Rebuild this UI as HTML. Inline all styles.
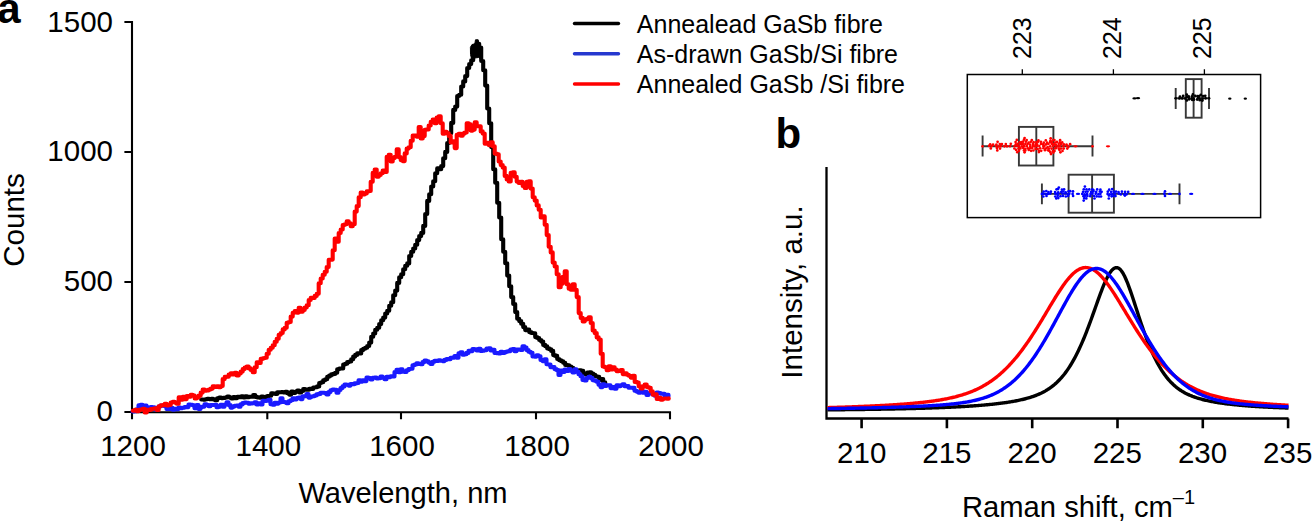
<!DOCTYPE html>
<html><head><meta charset="utf-8"><title>Figure</title>
<style>
html,body{margin:0;padding:0;background:#fff;width:1313px;height:521px;overflow:hidden;}
svg{display:block;}
text{font-family:"Liberation Sans",sans-serif;fill:#000;}
</style></head><body>
<svg width="1313" height="521" viewBox="0 0 1313 521">
<rect x="0" y="0" width="1313" height="521" fill="#fff"/>
<!-- panel labels -->
<text x="-2.8" y="23" font-size="42" font-weight="bold">a</text>
<text x="775.6" y="148" font-size="42" font-weight="bold">b</text>

<!-- ===== panel a axes ===== -->
<g stroke="#000" stroke-width="2.1" fill="none" stroke-linecap="butt">
<path d="M132,21 V412.2 H671"/>
<path d="M124.4,22 H132 M124.4,152 H132 M124.4,282 H132 M124.4,412 H132"/>
<path d="M132,412 V419.3 M267.3,412 V419.3 M401,412 V419.3 M536,412 V419.3 M670,412 V419.3"/>
</g>
<g font-size="29.5" text-anchor="end">
<text x="113" y="31.5">1500</text>
<text x="113" y="161.3">1000</text>
<text x="113" y="291.3">500</text>
<text x="113" y="421.3">0</text>
</g>
<g font-size="29.5" text-anchor="middle">
<text x="133" y="455.8">1200</text>
<text x="268.3" y="455.8">1400</text>
<text x="402" y="455.8">1600</text>
<text x="537" y="455.8">1800</text>
<text x="671" y="455.8">2000</text>
</g>
<text x="403" y="503" font-size="29.1" text-anchor="middle">Wavelength, nm</text>
<text transform="translate(24,220) rotate(-90)" font-size="29.5" text-anchor="middle">Counts</text>

<!-- panel a curves -->
<g fill="none" stroke-width="4.1" stroke-linejoin="round" stroke-linecap="round">
<path stroke="#000" d="M201.2,399.5 H203.2 V399.7 H205.2 V399.3 H207.2 V398.8 H209.2 V399.1 H211.2 V398.7 H213.2 V399.5 H215.2 V400.2 H217.2 V398.2 H219.2 V397.5 H221.2 V398.1 H223.2 V397.9 H225.2 V397.5 H227.2 V396.6 H229.2 V397.5 H231.2 V398.4 H233.2 V397.1 H235.2 V398.1 H237.2 V396.8 H239.2 V397.1 H241.2 V396.4 H243.2 V397.5 H245.2 V396.3 H247.2 V397.2 H249.2 V396.7 H251.2 V396.7 H253.2 V395.0 H255.2 V396.9 H257.2 V397.5 H259.2 V397.8 H261.2 V396.5 H263.2 V397.3 H265.2 V396.9 H267.2 V396.1 H269.2 V395.8 H271.2 V393.4 H273.2 V393.6 H275.2 V394.0 H277.2 V392.4 H279.2 V392.3 H281.2 V392.1 H283.2 V392.4 H285.2 V391.7 H287.2 V393.2 H289.2 V394.6 H291.2 V391.6 H293.2 V393.0 H295.2 V391.8 H297.2 V390.6 H299.2 V392.4 H301.2 V391.0 H303.2 V389.0 H305.2 V389.6 H307.2 V389.7 H309.2 V388.8 H311.2 V388.9 H313.2 V387.5 H315.2 V387.3 H317.2 V386.4 H319.2 V383.0 H321.2 V382.2 H323.2 V380.3 H325.2 V379.3 H327.2 V376.7 H329.2 V375.6 H331.2 V374.4 H333.2 V373.9 H335.2 V372.7 H337.2 V369.3 H339.2 V368.5 H341.2 V368.5 H343.2 V364.5 H345.2 V363.8 H347.2 V362.1 H349.2 V361.5 H351.2 V359.2 H353.2 V356.6 H355.2 V354.9 H357.2 V353.4 H359.2 V353.4 H361.2 V350.1 H363.2 V348.7 H365.2 V347.8 H367.2 V346.0 H369.2 V342.6 H371.2 V336.8 H373.2 V333.5 H375.2 V329.7 H377.2 V327.8 H379.2 V324.1 H381.2 V320.2 H383.2 V317.6 H385.2 V313.5 H387.2 V310.8 H389.2 V305.8 H391.2 V302.3 H393.2 V295.3 H395.2 V290.6 H397.2 V282.9 H399.2 V277.3 H401.2 V274.2 H403.2 V269.3 H405.2 V265.8 H407.2 V263.4 H409.2 V256.0 H411.2 V251.7 H413.2 V248.5 H415.2 V244.8 H417.2 V240.1 H419.2 V236.1 H421.2 V232.9 H423.2 V225.9 H425.2 V214.0 H427.2 V200.9 H429.2 V194.3 H431.2 V186.5 H433.2 V181.2 H435.2 V173.2 H437.2 V168.4 H439.2 V169.3 H441.2 V166.1 H443.2 V158.3 H445.2 V151.9 H447.2 V143.0 H449.2 V133.2 H451.2 V122.9 H453.2 V109.9 H455.2 V106.6 H457.2 V96.0 H459.2 V94.8 H461.2 V86.5 H463.2 V81.4 H465.2 V76.1 H467.2 V68.0 H469.2 V64.1 H471.2 V60.3 H473.2 V47.8 H475.2 V45.3 H477.2 V43.7 H479.2 V47.6 H481.2 V61.0 H483.2 V70.2 H485.2 V85.6 H487.2 V108.5 H489.2 V123.2 H491.2 V147.1 H493.2 V169.3 H495.2 V182.8 H497.2 V202.8 H499.2 V217.5 H501.2 V239.3 H503.2 V251.7 H505.2 V263.3 H507.2 V275.6 H509.2 V286.2 H511.2 V297.1 H513.2 V304.0 H515.2 V312.1 H517.2 V318.8 H519.2 V321.1 H521.2 V323.8 H523.2 V327.1 H525.2 V330.1 H527.2 V329.6 H529.2 V332.1 H531.2 V333.0 H533.2 V333.3 H535.2 V337.1 H537.2 V338.0 H539.2 V340.0 H541.2 V341.6 H543.2 V344.9 H545.2 V346.3 H547.2 V348.4 H549.2 V349.3 H551.2 V350.9 H553.2 V355.1 H555.2 V355.9 H557.2 V359.0 H559.2 V360.3 H561.2 V361.3 H563.2 V362.7 H565.2 V364.9 H567.2 V365.3 H569.2 V366.5 H571.2 V367.8 H573.2 V369.6 H575.2 V370.0 H577.2 V370.5 H579.2 V370.4 H581.2 V370.8 H583.2 V374.0 H585.2 V374.5 H587.2 V372.6 H589.2 V372.2 H591.2 V373.5 H593.2 V374.7 H595.2 V376.3 H597.2 V376.8 H599.2 V379.9 H601.2 V379.1 H603.2 V382.3 H605.2 V383.7"/>
<path fill="#000" stroke="#000" stroke-width="1" stroke-linejoin="round" d="M470.6,47 L472,44.5 L474.8,44 L475.5,39.8 L478.2,39.8 L479,44.5 L480.6,46 L481,52 L480.4,58.5 L478.5,57.5 L474.5,58 L471.6,59 L470.6,55 Z"/>
<path stroke="#1a1aff" d="M132.5,411.5 H134.5 V411.3 H136.5 V409.3 H138.5 V405.3 H140.5 V404.7 H142.5 V407.7 H144.5 V405.5 H146.5 V407.3 H148.5 V409.2 H150.5 V407.1 H152.5 V407.4 H154.5 V409.4 H156.5 V408.0 H158.5 V406.5 H160.5 V405.6 H162.5 V405.8 H164.5 V406.2 H166.5 V409.0 H168.5 V408.9 H170.5 V407.7 H172.5 V409.8 H174.5 V408.8 H176.5 V409.1 H178.5 V407.6 H180.5 V408.1 H182.5 V407.8 H184.5 V407.1 H186.5 V407.1 H188.5 V404.6 H190.5 V404.7 H192.5 V405.2 H194.5 V408.2 H196.5 V405.1 H198.5 V408.9 H200.5 V407.1 H202.5 V406.6 H204.5 V404.3 H206.5 V405.0 H208.5 V406.2 H210.5 V405.0 H212.5 V405.0 H214.5 V404.7 H216.5 V407.3 H218.5 V406.6 H220.5 V404.8 H222.5 V406.7 H224.5 V404.5 H226.5 V402.4 H228.5 V405.1 H230.5 V407.6 H232.5 V406.6 H234.5 V405.7 H236.5 V405.5 H238.5 V406.8 H240.5 V404.4 H242.5 V403.1 H244.5 V402.6 H246.5 V402.7 H248.5 V403.7 H250.5 V403.4 H252.5 V403.3 H254.5 V402.2 H256.5 V404.5 H258.5 V403.4 H260.5 V404.5 H262.5 V400.7 H264.5 V401.0 H266.5 V400.6 H268.5 V399.8 H270.5 V404.2 H272.5 V404.7 H274.5 V402.7 H276.5 V403.6 H278.5 V402.5 H280.5 V398.3 H282.5 V401.9 H284.5 V402.3 H286.5 V403.2 H288.5 V401.3 H290.5 V400.3 H292.5 V398.4 H294.5 V399.4 H296.5 V398.1 H298.5 V397.5 H300.5 V399.1 H302.5 V396.3 H304.5 V396.1 H306.5 V394.0 H308.5 V397.6 H310.5 V396.6 H312.5 V396.2 H314.5 V395.5 H316.5 V394.4 H318.5 V393.9 H320.5 V392.7 H322.5 V392.8 H324.5 V393.1 H326.5 V394.4 H328.5 V392.1 H330.5 V390.2 H332.5 V389.5 H334.5 V389.8 H336.5 V392.8 H338.5 V390.0 H340.5 V388.1 H342.5 V386.4 H344.5 V384.5 H346.5 V384.8 H348.5 V385.6 H350.5 V384.1 H352.5 V384.2 H354.5 V383.4 H356.5 V383.0 H358.5 V380.4 H360.5 V381.6 H362.5 V380.4 H364.5 V381.1 H366.5 V377.5 H368.5 V378.0 H370.5 V379.5 H372.5 V377.7 H374.5 V377.6 H376.5 V378.5 H378.5 V378.3 H380.5 V376.5 H382.5 V377.7 H384.5 V379.2 H386.5 V376.7 H388.5 V377.1 H390.5 V376.3 H392.5 V376.5 H394.5 V372.1 H396.5 V369.7 H398.5 V372.2 H400.5 V369.3 H402.5 V371.6 H404.5 V372.0 H406.5 V370.3 H408.5 V369.1 H410.5 V368.7 H412.5 V365.3 H414.5 V364.5 H416.5 V363.3 H418.5 V364.0 H420.5 V364.2 H422.5 V362.1 H424.5 V360.5 H426.5 V361.4 H428.5 V362.6 H430.5 V364.0 H432.5 V361.8 H434.5 V360.8 H436.5 V360.9 H438.5 V360.3 H440.5 V360.7 H442.5 V361.1 H444.5 V359.9 H446.5 V359.1 H448.5 V359.3 H450.5 V357.7 H452.5 V357.6 H454.5 V356.1 H456.5 V357.8 H458.5 V353.3 H460.5 V352.3 H462.5 V354.7 H464.5 V354.2 H466.5 V352.9 H468.5 V350.7 H470.5 V351.1 H472.5 V349.1 H474.5 V349.4 H476.5 V350.4 H478.5 V348.7 H480.5 V351.0 H482.5 V350.6 H484.5 V350.3 H486.5 V348.6 H488.5 V348.2 H490.5 V350.5 H492.5 V349.7 H494.5 V352.9 H496.5 V353.1 H498.5 V353.4 H500.5 V351.7 H502.5 V352.9 H504.5 V352.1 H506.5 V351.5 H508.5 V351.1 H510.5 V349.6 H512.5 V349.0 H514.5 V351.3 H516.5 V349.6 H518.5 V349.6 H520.5 V350.0 H522.5 V346.2 H524.5 V347.5 H526.5 V350.1 H528.5 V351.7 H530.5 V352.7 H532.5 V356.4 H534.5 V356.6 H536.5 V355.3 H538.5 V356.2 H540.5 V359.9 H542.5 V361.1 H544.5 V359.4 H546.5 V364.3 H548.5 V364.6 H550.5 V367.3 H552.5 V367.0 H554.5 V369.1 H556.5 V370.1 H558.5 V374.9 H560.5 V370.6 H562.5 V372.0 H564.5 V369.6 H566.5 V370.9 H568.5 V369.0 H570.5 V370.8 H572.5 V372.5 H574.5 V369.4 H576.5 V371.8 H578.5 V374.3 H580.5 V376.2 H582.5 V380.0 H584.5 V380.5 H586.5 V378.0 H588.5 V376.9 H590.5 V378.0 H592.5 V380.1 H594.5 V380.7 H596.5 V381.8 H598.5 V384.7 H600.5 V387.1 H602.5 V384.2 H604.5 V386.0 H606.5 V385.2 H608.5 V385.2 H610.5 V388.1 H612.5 V387.1 H614.5 V388.7 H616.5 V385.2 H618.5 V386.2 H620.5 V385.2 H622.5 V384.2 H624.5 V386.2 H626.5 V386.0 H628.5 V387.7 H630.5 V387.7 H632.5 V387.9 H634.5 V390.7 H636.5 V391.6 H638.5 V392.7 H640.5 V390.7 H642.5 V392.8 H644.5 V391.7 H646.5 V395.0 H648.5 V393.3 H650.5 V392.5 H652.5 V394.5 H654.5 V395.8 H656.5 V392.5 H658.5 V393.0 H660.5 V393.8 H662.5 V393.8 H664.5 V396.0 H666.5 V394.9 H668.5 V396.2"/>
<path stroke="#ff0000" d="M132.7,410.8 H134.7 V409.7 H136.7 V411.2 H138.7 V409.9 H140.7 V409.5 H142.7 V408.8 H144.7 V412.4 H146.7 V409.8 H148.7 V409.9 H150.7 V409.1 H152.7 V408.8 H154.7 V408.3 H156.7 V409.9 H158.7 V406.3 H160.7 V405.3 H162.7 V405.1 H164.7 V403.9 H166.7 V405.4 H168.7 V404.9 H170.7 V402.5 H172.7 V401.7 H174.7 V402.6 H176.7 V403.8 H178.7 V397.2 H180.7 V399.8 H182.7 V396.8 H184.7 V399.1 H186.7 V396.1 H188.7 V396.8 H190.7 V394.9 H192.7 V395.5 H194.7 V398.4 H196.7 V397.5 H198.7 V395.6 H200.7 V392.6 H202.7 V389.6 H204.7 V390.8 H206.7 V390.4 H208.7 V389.5 H210.7 V388.6 H212.7 V386.2 H214.7 V386.9 H216.7 V386.2 H218.7 V387.3 H220.7 V386.0 H222.7 V379.1 H224.7 V376.9 H226.7 V376.7 H228.7 V374.6 H230.7 V373.4 H232.7 V374.4 H234.7 V372.9 H236.7 V375.4 H238.7 V373.5 H240.7 V371.6 H242.7 V369.1 H244.7 V367.6 H246.7 V366.5 H248.7 V368.4 H250.7 V369.9 H252.7 V372.2 H254.7 V367.2 H256.7 V362.4 H258.7 V363.0 H260.7 V358.9 H262.7 V358.3 H264.7 V357.8 H266.7 V353.7 H268.7 V349.7 H270.7 V347.8 H272.7 V345.3 H274.7 V341.7 H276.7 V338.8 H278.7 V334.7 H280.7 V333.0 H282.7 V329.4 H284.7 V327.8 H286.7 V322.8 H288.7 V322.0 H290.7 V316.6 H292.7 V312.7 H294.7 V311.0 H296.7 V312.6 H298.7 V307.7 H300.7 V311.7 H302.7 V310.0 H304.7 V307.5 H306.7 V305.2 H308.7 V300.0 H310.7 V297.8 H312.7 V297.9 H314.7 V295.9 H316.7 V293.8 H318.7 V283.3 H320.7 V278.5 H322.7 V274.7 H324.7 V271.8 H326.7 V267.0 H328.7 V259.7 H330.7 V259.6 H332.7 V250.3 H334.7 V238.5 H336.7 V241.8 H338.7 V233.0 H340.7 V229.5 H342.7 V225.0 H344.7 V224.2 H346.7 V221.2 H348.7 V223.3 H350.7 V226.3 H352.7 V224.2 H354.7 V211.6 H356.7 V206.1 H358.7 V197.3 H360.7 V192.6 H362.7 V194.5 H364.7 V193.4 H366.7 V191.4 H368.7 V191.0 H370.7 V181.7 H372.7 V172.9 H374.7 V169.6 H376.7 V176.7 H378.7 V174.9 H380.7 V173.3 H382.7 V170.6 H384.7 V172.0 H386.7 V156.7 H388.7 V154.7 H390.7 V161.5 H392.7 V158.1 H394.7 V156.8 H396.7 V149.4 H398.7 V157.1 H400.7 V160.1 H402.7 V161.1 H404.7 V153.4 H406.7 V148.6 H408.7 V147.2 H410.7 V140.7 H412.7 V135.6 H414.7 V135.5 H416.7 V136.7 H418.7 V127.0 H420.7 V138.4 H422.7 V136.1 H424.7 V129.7 H426.7 V129.4 H428.7 V125.5 H430.7 V121.9 H432.7 V119.5 H434.7 V123.2 H436.7 V117.5 H438.7 V116.2 H440.7 V123.2 H442.7 V133.7 H444.7 V131.8 H446.7 V133.2 H448.7 V135.9 H450.7 V142.5 H452.7 V141.4 H454.7 V148.1 H456.7 V134.9 H458.7 V133.7 H460.7 V135.7 H462.7 V133.6 H464.7 V132.5 H466.7 V123.3 H468.7 V124.2 H470.7 V130.6 H472.7 V129.6 H474.7 V122.4 H476.7 V126.2 H478.7 V126.2 H480.7 V131.4 H482.7 V133.6 H484.7 V143.8 H486.7 V142.9 H488.7 V145.1 H490.7 V142.2 H492.7 V146.3 H494.7 V153.6 H496.7 V154.3 H498.7 V161.5 H500.7 V165.1 H502.7 V167.6 H504.7 V175.9 H506.7 V179.5 H508.7 V181.4 H510.7 V172.8 H512.7 V172.4 H514.7 V176.7 H516.7 V181.6 H518.7 V182.9 H520.7 V181.7 H522.7 V186.0 H524.7 V187.9 H526.7 V181.8 H528.7 V181.4 H530.7 V188.6 H532.7 V197.2 H534.7 V200.6 H536.7 V205.4 H538.7 V209.8 H540.7 V217.5 H542.7 V216.4 H544.7 V224.7 H546.7 V235.1 H548.7 V246.8 H550.7 V252.4 H552.7 V262.6 H554.7 V266.5 H556.7 V274.3 H558.7 V287.2 H560.7 V283.8 H562.7 V276.7 H564.7 V271.2 H566.7 V284.2 H568.7 V288.8 H570.7 V289.8 H572.7 V284.4 H574.7 V289.8 H576.7 V297.1 H578.7 V313.1 H580.7 V317.9 H582.7 V321.5 H584.7 V319.6 H586.7 V318.9 H588.7 V317.3 H590.7 V323.0 H592.7 V330.5 H594.7 V333.1 H596.7 V337.4 H598.7 V339.5 H600.7 V353.7 H602.7 V366.5 H604.7 V367.3 H606.7 V370.2 H608.7 V366.4 H610.7 V369.5 H612.7 V367.4 H614.7 V369.6 H616.7 V371.3 H618.7 V370.9 H620.7 V370.0 H622.7 V374.1 H624.7 V373.2 H626.7 V374.8 H628.7 V375.8 H630.7 V377.6 H632.7 V375.7 H634.7 V381.9 H636.7 V382.5 H638.7 V386.2 H640.7 V388.4 H642.7 V386.3 H644.7 V384.5 H646.7 V387.0 H648.7 V387.7 H650.7 V391.2 H652.7 V394.8 H654.7 V394.4 H656.7 V398.9 H658.7 V397.9 H660.7 V399.7 H662.7 V398.8 H664.7 V398.5 H666.7 V398.8 H668.7 V398.2"/>
</g>

<!-- legend -->
<g stroke-width="3.4" stroke-linecap="round">
<line x1="574.5" y1="23.5" x2="618.5" y2="23.5" stroke="#000"/>
<line x1="574.5" y1="53.8" x2="618.5" y2="53.8" stroke="#2638cf"/>
<line x1="574.5" y1="84" x2="618.5" y2="84" stroke="#ff0000"/>
</g>
<g font-size="25">
<text x="636.8" y="32.8">Annealead GaSb fibre</text>
<text x="636.8" y="63.1">As-drawn GaSb/Si fibre</text>
<text x="636.8" y="93.3">Annealed GaSb /Si fibre</text>
</g>

<!-- ===== panel b axes ===== -->
<g stroke="#000" stroke-width="2.3" fill="none">
<path d="M826.5,167 V418.5 H1288.5"/>
<path stroke-width="2.6" d="M861.6,418.5 V428.2 M946.9,418.5 V428.2 M1032.2,418.5 V428.2 M1117.5,418.5 V428.2 M1202.8,418.5 V428.2 M1288.1,418.5 V428.2"/>
</g>
<g font-size="29.5" text-anchor="middle">
<text x="861.7" y="462.5">210</text>
<text x="946.9" y="462.5">215</text>
<text x="1032.1" y="462.5">220</text>
<text x="1117.3" y="462.5">225</text>
<text x="1202.5" y="462.5">230</text>
<text x="1287.7" y="462.5">235</text>
</g>
<text x="962" y="516.5" font-size="29.2">Raman shift, cm<tspan font-size="20" dy="-12.7">–1</tspan></text>
<text transform="translate(801.5,292) rotate(-90)" font-size="29.5" text-anchor="middle">Intensity, a.u.</text>

<g fill="none" stroke-width="3.4" stroke-linejoin="round">
<path stroke="#000" d="M827.5,409.85 L828.5,409.84 L829.5,409.83 L830.5,409.82 L831.5,409.81 L832.5,409.80 L833.5,409.79 L834.5,409.78 L835.5,409.77 L836.5,409.76 L837.5,409.75 L838.5,409.74 L839.5,409.73 L840.5,409.72 L841.5,409.71 L842.5,409.70 L843.5,409.69 L844.5,409.68 L845.5,409.67 L846.5,409.66 L847.5,409.64 L848.5,409.63 L849.5,409.62 L850.5,409.61 L851.5,409.60 L852.5,409.59 L853.5,409.57 L854.5,409.56 L855.5,409.55 L856.5,409.54 L857.5,409.52 L858.5,409.51 L859.5,409.50 L860.5,409.48 L861.5,409.47 L862.5,409.46 L863.5,409.44 L864.5,409.43 L865.5,409.42 L866.5,409.40 L867.5,409.39 L868.5,409.37 L869.5,409.36 L870.5,409.34 L871.5,409.33 L872.5,409.31 L873.5,409.30 L874.5,409.28 L875.5,409.27 L876.5,409.25 L877.5,409.23 L878.5,409.22 L879.5,409.20 L880.5,409.18 L881.5,409.17 L882.5,409.15 L883.5,409.13 L884.5,409.12 L885.5,409.10 L886.5,409.08 L887.5,409.06 L888.5,409.04 L889.5,409.02 L890.5,409.00 L891.5,408.99 L892.5,408.97 L893.5,408.95 L894.5,408.93 L895.5,408.91 L896.5,408.89 L897.5,408.86 L898.5,408.84 L899.5,408.82 L900.5,408.80 L901.5,408.78 L902.5,408.76 L903.5,408.73 L904.5,408.71 L905.5,408.69 L906.5,408.66 L907.5,408.64 L908.5,408.62 L909.5,408.59 L910.5,408.57 L911.5,408.54 L912.5,408.52 L913.5,408.49 L914.5,408.46 L915.5,408.44 L916.5,408.41 L917.5,408.38 L918.5,408.35 L919.5,408.33 L920.5,408.30 L921.5,408.27 L922.5,408.24 L923.5,408.21 L924.5,408.18 L925.5,408.15 L926.5,408.12 L927.5,408.08 L928.5,408.05 L929.5,408.02 L930.5,407.99 L931.5,407.95 L932.5,407.92 L933.5,407.88 L934.5,407.85 L935.5,407.81 L936.5,407.77 L937.5,407.74 L938.5,407.70 L939.5,407.66 L940.5,407.62 L941.5,407.58 L942.5,407.54 L943.5,407.50 L944.5,407.46 L945.5,407.42 L946.5,407.37 L947.5,407.33 L948.5,407.28 L949.5,407.24 L950.5,407.19 L951.5,407.15 L952.5,407.10 L953.5,407.05 L954.5,407.00 L955.5,406.95 L956.5,406.90 L957.5,406.85 L958.5,406.79 L959.5,406.74 L960.5,406.68 L961.5,406.63 L962.5,406.57 L963.5,406.51 L964.5,406.45 L965.5,406.39 L966.5,406.33 L967.5,406.27 L968.5,406.21 L969.5,406.14 L970.5,406.07 L971.5,406.01 L972.5,405.94 L973.5,405.87 L974.5,405.80 L975.5,405.72 L976.5,405.65 L977.5,405.57 L978.5,405.49 L979.5,405.42 L980.5,405.33 L981.5,405.25 L982.5,405.17 L983.5,405.08 L984.5,404.99 L985.5,404.90 L986.5,404.81 L987.5,404.72 L988.5,404.62 L989.5,404.53 L990.5,404.43 L991.5,404.32 L992.5,404.22 L993.5,404.11 L994.5,404.00 L995.5,403.89 L996.5,403.78 L997.5,403.66 L998.5,403.54 L999.5,403.42 L1000.5,403.29 L1001.5,403.16 L1002.5,403.03 L1003.5,402.90 L1004.5,402.76 L1005.5,402.62 L1006.5,402.47 L1007.5,402.32 L1008.5,402.17 L1009.5,402.01 L1010.5,401.85 L1011.5,401.68 L1012.5,401.51 L1013.5,401.33 L1014.5,401.15 L1015.5,400.96 L1016.5,400.77 L1017.5,400.57 L1018.5,400.37 L1019.5,400.15 L1020.5,399.94 L1021.5,399.71 L1022.5,399.48 L1023.5,399.24 L1024.5,398.99 L1025.5,398.73 L1026.5,398.47 L1027.5,398.19 L1028.5,397.90 L1029.5,397.61 L1030.5,397.30 L1031.5,396.98 L1032.5,396.65 L1033.5,396.30 L1034.5,395.94 L1035.5,395.57 L1036.5,395.18 L1037.5,394.78 L1038.5,394.36 L1039.5,393.92 L1040.5,393.46 L1041.5,392.99 L1042.5,392.49 L1043.5,391.97 L1044.5,391.43 L1045.5,390.87 L1046.5,390.28 L1047.5,389.66 L1048.5,389.02 L1049.5,388.35 L1050.5,387.65 L1051.5,386.92 L1052.5,386.15 L1053.5,385.35 L1054.5,384.52 L1055.5,383.65 L1056.5,382.75 L1057.5,381.80 L1058.5,380.81 L1059.5,379.78 L1060.5,378.71 L1061.5,377.59 L1062.5,376.43 L1063.5,375.22 L1064.5,373.96 L1065.5,372.64 L1066.5,371.28 L1067.5,369.86 L1068.5,368.39 L1069.5,366.86 L1070.5,365.28 L1071.5,363.64 L1072.5,361.94 L1073.5,360.18 L1074.5,358.36 L1075.5,356.48 L1076.5,354.53 L1077.5,352.53 L1078.5,350.47 L1079.5,348.34 L1080.5,346.15 L1081.5,343.91 L1082.5,341.60 L1083.5,339.23 L1084.5,336.81 L1085.5,334.33 L1086.5,331.80 L1087.5,329.22 L1088.5,326.59 L1089.5,323.92 L1090.5,321.22 L1091.5,318.47 L1092.5,315.70 L1093.5,312.91 L1094.5,310.10 L1095.5,307.28 L1096.5,304.47 L1097.5,301.67 L1098.5,298.89 L1099.5,296.14 L1100.5,293.44 L1101.5,290.79 L1102.5,288.21 L1103.5,285.73 L1104.5,283.34 L1105.5,281.06 L1106.5,278.92 L1107.5,276.92 L1108.5,275.08 L1109.5,273.42 L1110.5,271.94 L1111.5,270.66 L1112.5,269.60 L1113.5,268.76 L1114.5,268.14 L1115.5,267.76 L1116.5,267.62 L1117.5,267.73 L1118.5,268.13 L1119.5,268.81 L1120.5,269.77 L1121.5,270.99 L1122.5,272.46 L1123.5,274.16 L1124.5,276.09 L1125.5,278.21 L1126.5,280.52 L1127.5,282.98 L1128.5,285.59 L1129.5,288.32 L1130.5,291.14 L1131.5,294.06 L1132.5,297.04 L1133.5,300.06 L1134.5,303.12 L1135.5,306.20 L1136.5,309.29 L1137.5,312.37 L1138.5,315.44 L1139.5,318.47 L1140.5,321.48 L1141.5,324.44 L1142.5,327.36 L1143.5,330.22 L1144.5,333.03 L1145.5,335.77 L1146.5,338.45 L1147.5,341.06 L1148.5,343.60 L1149.5,346.07 L1150.5,348.46 L1151.5,350.79 L1152.5,353.04 L1153.5,355.21 L1154.5,357.32 L1155.5,359.34 L1156.5,361.30 L1157.5,363.19 L1158.5,365.00 L1159.5,366.74 L1160.5,368.42 L1161.5,370.03 L1162.5,371.57 L1163.5,373.05 L1164.5,374.47 L1165.5,375.83 L1166.5,377.13 L1167.5,378.37 L1168.5,379.56 L1169.5,380.70 L1170.5,381.78 L1171.5,382.82 L1172.5,383.80 L1173.5,384.75 L1174.5,385.65 L1175.5,386.51 L1176.5,387.33 L1177.5,388.11 L1178.5,388.85 L1179.5,389.56 L1180.5,390.24 L1181.5,390.89 L1182.5,391.50 L1183.5,392.09 L1184.5,392.65 L1185.5,393.19 L1186.5,393.70 L1187.5,394.19 L1188.5,394.66 L1189.5,395.11 L1190.5,395.53 L1191.5,395.94 L1192.5,396.34 L1193.5,396.71 L1194.5,397.07 L1195.5,397.42 L1196.5,397.75 L1197.5,398.07 L1198.5,398.38 L1199.5,398.67 L1200.5,398.95 L1201.5,399.23 L1202.5,399.49 L1203.5,399.75 L1204.5,399.99 L1205.5,400.23 L1206.5,400.46 L1207.5,400.68 L1208.5,400.89 L1209.5,401.10 L1210.5,401.30 L1211.5,401.49 L1212.5,401.68 L1213.5,401.86 L1214.5,402.04 L1215.5,402.21 L1216.5,402.38 L1217.5,402.54 L1218.5,402.70 L1219.5,402.85 L1220.5,403.00 L1221.5,403.15 L1222.5,403.29 L1223.5,403.43 L1224.5,403.56 L1225.5,403.69 L1226.5,403.82 L1227.5,403.94 L1228.5,404.07 L1229.5,404.18 L1230.5,404.30 L1231.5,404.41 L1232.5,404.52 L1233.5,404.63 L1234.5,404.73 L1235.5,404.83 L1236.5,404.93 L1237.5,405.03 L1238.5,405.13 L1239.5,405.22 L1240.5,405.31 L1241.5,405.40 L1242.5,405.49 L1243.5,405.57 L1244.5,405.65 L1245.5,405.74 L1246.5,405.82 L1247.5,405.89 L1248.5,405.97 L1249.5,406.05 L1250.5,406.12 L1251.5,406.19 L1252.5,406.26 L1253.5,406.33 L1254.5,406.40 L1255.5,406.46 L1256.5,406.53 L1257.5,406.59 L1258.5,406.65 L1259.5,406.71 L1260.5,406.77 L1261.5,406.83 L1262.5,406.89 L1263.5,406.95 L1264.5,407.00 L1265.5,407.05 L1266.5,407.11 L1267.5,407.16 L1268.5,407.21 L1269.5,407.26 L1270.5,407.31 L1271.5,407.36 L1272.5,407.41 L1273.5,407.45 L1274.5,407.50 L1275.5,407.54 L1276.5,407.59 L1277.5,407.63 L1278.5,407.67 L1279.5,407.72 L1280.5,407.76 L1281.5,407.80 L1282.5,407.84 L1283.5,407.88 L1284.5,407.91 L1285.5,407.95 L1286.5,407.99 L1287.5,408.03 L1288.5,408.06"/>
<path stroke="#ff0000" d="M827.5,407.61 L828.5,407.58 L829.5,407.55 L830.5,407.52 L831.5,407.49 L832.5,407.46 L833.5,407.43 L834.5,407.40 L835.5,407.37 L836.5,407.34 L837.5,407.31 L838.5,407.28 L839.5,407.25 L840.5,407.22 L841.5,407.18 L842.5,407.15 L843.5,407.12 L844.5,407.08 L845.5,407.05 L846.5,407.01 L847.5,406.98 L848.5,406.94 L849.5,406.91 L850.5,406.87 L851.5,406.84 L852.5,406.80 L853.5,406.76 L854.5,406.72 L855.5,406.68 L856.5,406.65 L857.5,406.61 L858.5,406.57 L859.5,406.53 L860.5,406.49 L861.5,406.44 L862.5,406.40 L863.5,406.36 L864.5,406.32 L865.5,406.27 L866.5,406.23 L867.5,406.18 L868.5,406.14 L869.5,406.09 L870.5,406.05 L871.5,406.00 L872.5,405.95 L873.5,405.90 L874.5,405.86 L875.5,405.81 L876.5,405.76 L877.5,405.70 L878.5,405.65 L879.5,405.60 L880.5,405.55 L881.5,405.49 L882.5,405.44 L883.5,405.38 L884.5,405.33 L885.5,405.27 L886.5,405.21 L887.5,405.15 L888.5,405.09 L889.5,405.03 L890.5,404.97 L891.5,404.91 L892.5,404.85 L893.5,404.78 L894.5,404.72 L895.5,404.65 L896.5,404.58 L897.5,404.51 L898.5,404.45 L899.5,404.37 L900.5,404.30 L901.5,404.23 L902.5,404.16 L903.5,404.08 L904.5,404.00 L905.5,403.92 L906.5,403.85 L907.5,403.76 L908.5,403.68 L909.5,403.60 L910.5,403.51 L911.5,403.42 L912.5,403.34 L913.5,403.25 L914.5,403.15 L915.5,403.06 L916.5,402.96 L917.5,402.86 L918.5,402.76 L919.5,402.66 L920.5,402.56 L921.5,402.45 L922.5,402.34 L923.5,402.23 L924.5,402.12 L925.5,402.00 L926.5,401.88 L927.5,401.76 L928.5,401.64 L929.5,401.51 L930.5,401.38 L931.5,401.25 L932.5,401.11 L933.5,400.97 L934.5,400.83 L935.5,400.68 L936.5,400.53 L937.5,400.38 L938.5,400.22 L939.5,400.06 L940.5,399.89 L941.5,399.72 L942.5,399.55 L943.5,399.37 L944.5,399.18 L945.5,398.99 L946.5,398.80 L947.5,398.60 L948.5,398.39 L949.5,398.18 L950.5,397.96 L951.5,397.74 L952.5,397.51 L953.5,397.27 L954.5,397.03 L955.5,396.78 L956.5,396.52 L957.5,396.25 L958.5,395.98 L959.5,395.70 L960.5,395.41 L961.5,395.11 L962.5,394.81 L963.5,394.49 L964.5,394.17 L965.5,393.83 L966.5,393.49 L967.5,393.13 L968.5,392.77 L969.5,392.39 L970.5,392.01 L971.5,391.61 L972.5,391.20 L973.5,390.78 L974.5,390.35 L975.5,389.90 L976.5,389.44 L977.5,388.97 L978.5,388.48 L979.5,387.99 L980.5,387.47 L981.5,386.94 L982.5,386.40 L983.5,385.84 L984.5,385.27 L985.5,384.68 L986.5,384.08 L987.5,383.45 L988.5,382.82 L989.5,382.16 L990.5,381.49 L991.5,380.80 L992.5,380.09 L993.5,379.36 L994.5,378.62 L995.5,377.85 L996.5,377.07 L997.5,376.27 L998.5,375.44 L999.5,374.60 L1000.5,373.74 L1001.5,372.85 L1002.5,371.95 L1003.5,371.03 L1004.5,370.08 L1005.5,369.11 L1006.5,368.13 L1007.5,367.12 L1008.5,366.09 L1009.5,365.03 L1010.5,363.96 L1011.5,362.86 L1012.5,361.74 L1013.5,360.60 L1014.5,359.44 L1015.5,358.26 L1016.5,357.05 L1017.5,355.82 L1018.5,354.57 L1019.5,353.30 L1020.5,352.01 L1021.5,350.69 L1022.5,349.36 L1023.5,348.00 L1024.5,346.62 L1025.5,345.23 L1026.5,343.81 L1027.5,342.37 L1028.5,340.92 L1029.5,339.44 L1030.5,337.95 L1031.5,336.44 L1032.5,334.91 L1033.5,333.36 L1034.5,331.80 L1035.5,330.23 L1036.5,328.64 L1037.5,327.03 L1038.5,325.42 L1039.5,323.79 L1040.5,322.16 L1041.5,320.51 L1042.5,318.85 L1043.5,317.19 L1044.5,315.52 L1045.5,313.85 L1046.5,312.18 L1047.5,310.50 L1048.5,308.83 L1049.5,307.16 L1050.5,305.49 L1051.5,303.82 L1052.5,302.17 L1053.5,300.52 L1054.5,298.88 L1055.5,297.26 L1056.5,295.66 L1057.5,294.07 L1058.5,292.51 L1059.5,290.97 L1060.5,289.45 L1061.5,287.96 L1062.5,286.51 L1063.5,285.08 L1064.5,283.70 L1065.5,282.35 L1066.5,281.05 L1067.5,279.79 L1068.5,278.57 L1069.5,277.41 L1070.5,276.30 L1071.5,275.25 L1072.5,274.25 L1073.5,273.32 L1074.5,272.45 L1075.5,271.64 L1076.5,270.90 L1077.5,270.23 L1078.5,269.64 L1079.5,269.11 L1080.5,268.66 L1081.5,268.28 L1082.5,267.99 L1083.5,267.77 L1084.5,267.62 L1085.5,267.56 L1086.5,267.58 L1087.5,267.67 L1088.5,267.84 L1089.5,268.08 L1090.5,268.41 L1091.5,268.80 L1092.5,269.27 L1093.5,269.82 L1094.5,270.43 L1095.5,271.11 L1096.5,271.86 L1097.5,272.68 L1098.5,273.56 L1099.5,274.50 L1100.5,275.50 L1101.5,276.55 L1102.5,277.66 L1103.5,278.82 L1104.5,280.03 L1105.5,281.28 L1106.5,282.58 L1107.5,283.92 L1108.5,285.29 L1109.5,286.71 L1110.5,288.15 L1111.5,289.62 L1112.5,291.13 L1113.5,292.65 L1114.5,294.20 L1115.5,295.77 L1116.5,297.36 L1117.5,298.96 L1118.5,300.58 L1119.5,302.21 L1120.5,303.85 L1121.5,305.49 L1122.5,307.14 L1123.5,308.80 L1124.5,310.46 L1125.5,312.11 L1126.5,313.77 L1127.5,315.42 L1128.5,317.07 L1129.5,318.72 L1130.5,320.35 L1131.5,321.98 L1132.5,323.60 L1133.5,325.21 L1134.5,326.81 L1135.5,328.40 L1136.5,329.97 L1137.5,331.53 L1138.5,333.08 L1139.5,334.61 L1140.5,336.12 L1141.5,337.62 L1142.5,339.10 L1143.5,340.56 L1144.5,342.01 L1145.5,343.44 L1146.5,344.84 L1147.5,346.23 L1148.5,347.60 L1149.5,348.95 L1150.5,350.27 L1151.5,351.58 L1152.5,352.87 L1153.5,354.13 L1154.5,355.37 L1155.5,356.60 L1156.5,357.80 L1157.5,358.98 L1158.5,360.14 L1159.5,361.27 L1160.5,362.39 L1161.5,363.48 L1162.5,364.55 L1163.5,365.60 L1164.5,366.63 L1165.5,367.64 L1166.5,368.63 L1167.5,369.60 L1168.5,370.54 L1169.5,371.47 L1170.5,372.37 L1171.5,373.26 L1172.5,374.12 L1173.5,374.96 L1174.5,375.79 L1175.5,376.59 L1176.5,377.38 L1177.5,378.15 L1178.5,378.90 L1179.5,379.63 L1180.5,380.34 L1181.5,381.03 L1182.5,381.71 L1183.5,382.37 L1184.5,383.01 L1185.5,383.64 L1186.5,384.25 L1187.5,384.84 L1188.5,385.42 L1189.5,385.99 L1190.5,386.53 L1191.5,387.07 L1192.5,387.59 L1193.5,388.09 L1194.5,388.58 L1195.5,389.06 L1196.5,389.52 L1197.5,389.97 L1198.5,390.41 L1199.5,390.84 L1200.5,391.25 L1201.5,391.66 L1202.5,392.05 L1203.5,392.43 L1204.5,392.80 L1205.5,393.16 L1206.5,393.51 L1207.5,393.85 L1208.5,394.18 L1209.5,394.50 L1210.5,394.81 L1211.5,395.11 L1212.5,395.41 L1213.5,395.69 L1214.5,395.97 L1215.5,396.24 L1216.5,396.51 L1217.5,396.76 L1218.5,397.01 L1219.5,397.25 L1220.5,397.49 L1221.5,397.71 L1222.5,397.94 L1223.5,398.15 L1224.5,398.36 L1225.5,398.57 L1226.5,398.77 L1227.5,398.96 L1228.5,399.15 L1229.5,399.33 L1230.5,399.51 L1231.5,399.68 L1232.5,399.85 L1233.5,400.02 L1234.5,400.18 L1235.5,400.34 L1236.5,400.49 L1237.5,400.64 L1238.5,400.79 L1239.5,400.93 L1240.5,401.07 L1241.5,401.20 L1242.5,401.34 L1243.5,401.47 L1244.5,401.59 L1245.5,401.72 L1246.5,401.84 L1247.5,401.96 L1248.5,402.07 L1249.5,402.19 L1250.5,402.30 L1251.5,402.41 L1252.5,402.51 L1253.5,402.62 L1254.5,402.72 L1255.5,402.82 L1256.5,402.91 L1257.5,403.01 L1258.5,403.10 L1259.5,403.20 L1260.5,403.29 L1261.5,403.38 L1262.5,403.46 L1263.5,403.55 L1264.5,403.63 L1265.5,403.72 L1266.5,403.80 L1267.5,403.88 L1268.5,403.95 L1269.5,404.03 L1270.5,404.11 L1271.5,404.18 L1272.5,404.25 L1273.5,404.33 L1274.5,404.40 L1275.5,404.47 L1276.5,404.53 L1277.5,404.60 L1278.5,404.67 L1279.5,404.73 L1280.5,404.80 L1281.5,404.86 L1282.5,404.92 L1283.5,404.99 L1284.5,405.05 L1285.5,405.11 L1286.5,405.16 L1287.5,405.22 L1288.5,405.28"/>
<path stroke="#0000ff" d="M827.5,408.63 L828.5,408.62 L829.5,408.60 L830.5,408.59 L831.5,408.57 L832.5,408.56 L833.5,408.54 L834.5,408.53 L835.5,408.51 L836.5,408.50 L837.5,408.48 L838.5,408.47 L839.5,408.45 L840.5,408.44 L841.5,408.42 L842.5,408.40 L843.5,408.39 L844.5,408.37 L845.5,408.35 L846.5,408.34 L847.5,408.32 L848.5,408.30 L849.5,408.28 L850.5,408.26 L851.5,408.25 L852.5,408.23 L853.5,408.21 L854.5,408.19 L855.5,408.17 L856.5,408.15 L857.5,408.13 L858.5,408.11 L859.5,408.09 L860.5,408.07 L861.5,408.05 L862.5,408.03 L863.5,408.01 L864.5,407.99 L865.5,407.97 L866.5,407.95 L867.5,407.92 L868.5,407.90 L869.5,407.88 L870.5,407.86 L871.5,407.83 L872.5,407.81 L873.5,407.79 L874.5,407.76 L875.5,407.74 L876.5,407.71 L877.5,407.69 L878.5,407.66 L879.5,407.64 L880.5,407.61 L881.5,407.58 L882.5,407.56 L883.5,407.53 L884.5,407.50 L885.5,407.48 L886.5,407.45 L887.5,407.42 L888.5,407.39 L889.5,407.36 L890.5,407.33 L891.5,407.30 L892.5,407.27 L893.5,407.24 L894.5,407.21 L895.5,407.18 L896.5,407.14 L897.5,407.11 L898.5,407.08 L899.5,407.04 L900.5,407.01 L901.5,406.98 L902.5,406.94 L903.5,406.90 L904.5,406.87 L905.5,406.83 L906.5,406.79 L907.5,406.76 L908.5,406.72 L909.5,406.68 L910.5,406.64 L911.5,406.60 L912.5,406.56 L913.5,406.51 L914.5,406.47 L915.5,406.43 L916.5,406.38 L917.5,406.34 L918.5,406.29 L919.5,406.25 L920.5,406.20 L921.5,406.15 L922.5,406.10 L923.5,406.05 L924.5,406.00 L925.5,405.95 L926.5,405.89 L927.5,405.84 L928.5,405.78 L929.5,405.72 L930.5,405.67 L931.5,405.61 L932.5,405.55 L933.5,405.48 L934.5,405.42 L935.5,405.36 L936.5,405.29 L937.5,405.22 L938.5,405.15 L939.5,405.08 L940.5,405.00 L941.5,404.93 L942.5,404.85 L943.5,404.77 L944.5,404.69 L945.5,404.61 L946.5,404.52 L947.5,404.43 L948.5,404.34 L949.5,404.24 L950.5,404.14 L951.5,404.04 L952.5,403.94 L953.5,403.83 L954.5,403.72 L955.5,403.61 L956.5,403.49 L957.5,403.37 L958.5,403.24 L959.5,403.11 L960.5,402.98 L961.5,402.84 L962.5,402.69 L963.5,402.55 L964.5,402.39 L965.5,402.23 L966.5,402.06 L967.5,401.89 L968.5,401.71 L969.5,401.53 L970.5,401.33 L971.5,401.13 L972.5,400.93 L973.5,400.71 L974.5,400.49 L975.5,400.26 L976.5,400.02 L977.5,399.77 L978.5,399.51 L979.5,399.24 L980.5,398.96 L981.5,398.67 L982.5,398.37 L983.5,398.06 L984.5,397.73 L985.5,397.39 L986.5,397.04 L987.5,396.68 L988.5,396.30 L989.5,395.91 L990.5,395.51 L991.5,395.09 L992.5,394.65 L993.5,394.20 L994.5,393.73 L995.5,393.24 L996.5,392.74 L997.5,392.22 L998.5,391.68 L999.5,391.12 L1000.5,390.54 L1001.5,389.95 L1002.5,389.33 L1003.5,388.69 L1004.5,388.03 L1005.5,387.35 L1006.5,386.64 L1007.5,385.91 L1008.5,385.16 L1009.5,384.39 L1010.5,383.59 L1011.5,382.77 L1012.5,381.92 L1013.5,381.04 L1014.5,380.14 L1015.5,379.22 L1016.5,378.27 L1017.5,377.29 L1018.5,376.28 L1019.5,375.25 L1020.5,374.19 L1021.5,373.10 L1022.5,371.99 L1023.5,370.85 L1024.5,369.67 L1025.5,368.48 L1026.5,367.25 L1027.5,365.99 L1028.5,364.71 L1029.5,363.40 L1030.5,362.06 L1031.5,360.69 L1032.5,359.30 L1033.5,357.88 L1034.5,356.43 L1035.5,354.95 L1036.5,353.45 L1037.5,351.92 L1038.5,350.37 L1039.5,348.79 L1040.5,347.19 L1041.5,345.57 L1042.5,343.92 L1043.5,342.25 L1044.5,340.56 L1045.5,338.85 L1046.5,337.13 L1047.5,335.38 L1048.5,333.62 L1049.5,331.84 L1050.5,330.04 L1051.5,328.24 L1052.5,326.42 L1053.5,324.59 L1054.5,322.76 L1055.5,320.91 L1056.5,319.06 L1057.5,317.21 L1058.5,315.35 L1059.5,313.50 L1060.5,311.65 L1061.5,309.80 L1062.5,307.96 L1063.5,306.13 L1064.5,304.31 L1065.5,302.50 L1066.5,300.71 L1067.5,298.94 L1068.5,297.19 L1069.5,295.46 L1070.5,293.76 L1071.5,292.09 L1072.5,290.45 L1073.5,288.85 L1074.5,287.28 L1075.5,285.76 L1076.5,284.28 L1077.5,282.85 L1078.5,281.48 L1079.5,280.15 L1080.5,278.88 L1081.5,277.67 L1082.5,276.53 L1083.5,275.45 L1084.5,274.44 L1085.5,273.50 L1086.5,272.63 L1087.5,271.84 L1088.5,271.12 L1089.5,270.49 L1090.5,269.94 L1091.5,269.47 L1092.5,269.09 L1093.5,268.79 L1094.5,268.58 L1095.5,268.46 L1096.5,268.42 L1097.5,268.47 L1098.5,268.61 L1099.5,268.84 L1100.5,269.15 L1101.5,269.54 L1102.5,270.02 L1103.5,270.57 L1104.5,271.21 L1105.5,271.93 L1106.5,272.72 L1107.5,273.59 L1108.5,274.53 L1109.5,275.54 L1110.5,276.61 L1111.5,277.75 L1112.5,278.96 L1113.5,280.22 L1114.5,281.53 L1115.5,282.90 L1116.5,284.32 L1117.5,285.79 L1118.5,287.29 L1119.5,288.84 L1120.5,290.43 L1121.5,292.06 L1122.5,293.71 L1123.5,295.40 L1124.5,297.11 L1125.5,298.84 L1126.5,300.60 L1127.5,302.37 L1128.5,304.16 L1129.5,305.97 L1130.5,307.78 L1131.5,309.61 L1132.5,311.44 L1133.5,313.27 L1134.5,315.11 L1135.5,316.95 L1136.5,318.78 L1137.5,320.62 L1138.5,322.45 L1139.5,324.27 L1140.5,326.08 L1141.5,327.89 L1142.5,329.68 L1143.5,331.46 L1144.5,333.23 L1145.5,334.98 L1146.5,336.71 L1147.5,338.43 L1148.5,340.13 L1149.5,341.81 L1150.5,343.47 L1151.5,345.11 L1152.5,346.73 L1153.5,348.32 L1154.5,349.89 L1155.5,351.44 L1156.5,352.96 L1157.5,354.45 L1158.5,355.93 L1159.5,357.37 L1160.5,358.79 L1161.5,360.18 L1162.5,361.55 L1163.5,362.89 L1164.5,364.20 L1165.5,365.48 L1166.5,366.73 L1167.5,367.96 L1168.5,369.16 L1169.5,370.34 L1170.5,371.48 L1171.5,372.60 L1172.5,373.69 L1173.5,374.75 L1174.5,375.79 L1175.5,376.80 L1176.5,377.78 L1177.5,378.74 L1178.5,379.67 L1179.5,380.57 L1180.5,381.45 L1181.5,382.31 L1182.5,383.14 L1183.5,383.94 L1184.5,384.72 L1185.5,385.48 L1186.5,386.22 L1187.5,386.93 L1188.5,387.62 L1189.5,388.29 L1190.5,388.93 L1191.5,389.56 L1192.5,390.17 L1193.5,390.75 L1194.5,391.32 L1195.5,391.86 L1196.5,392.39 L1197.5,392.90 L1198.5,393.40 L1199.5,393.87 L1200.5,394.33 L1201.5,394.78 L1202.5,395.20 L1203.5,395.62 L1204.5,396.02 L1205.5,396.40 L1206.5,396.77 L1207.5,397.13 L1208.5,397.47 L1209.5,397.80 L1210.5,398.12 L1211.5,398.43 L1212.5,398.72 L1213.5,399.01 L1214.5,399.29 L1215.5,399.55 L1216.5,399.81 L1217.5,400.05 L1218.5,400.29 L1219.5,400.52 L1220.5,400.74 L1221.5,400.95 L1222.5,401.16 L1223.5,401.35 L1224.5,401.54 L1225.5,401.73 L1226.5,401.90 L1227.5,402.07 L1228.5,402.24 L1229.5,402.40 L1230.5,402.55 L1231.5,402.70 L1232.5,402.84 L1233.5,402.98 L1234.5,403.11 L1235.5,403.24 L1236.5,403.37 L1237.5,403.49 L1238.5,403.60 L1239.5,403.72 L1240.5,403.83 L1241.5,403.93 L1242.5,404.04 L1243.5,404.14 L1244.5,404.23 L1245.5,404.33 L1246.5,404.42 L1247.5,404.51 L1248.5,404.59 L1249.5,404.68 L1250.5,404.76 L1251.5,404.84 L1252.5,404.92 L1253.5,404.99 L1254.5,405.07 L1255.5,405.14 L1256.5,405.21 L1257.5,405.27 L1258.5,405.34 L1259.5,405.41 L1260.5,405.47 L1261.5,405.53 L1262.5,405.59 L1263.5,405.65 L1264.5,405.71 L1265.5,405.77 L1266.5,405.82 L1267.5,405.88 L1268.5,405.93 L1269.5,405.98 L1270.5,406.03 L1271.5,406.08 L1272.5,406.13 L1273.5,406.18 L1274.5,406.23 L1275.5,406.28 L1276.5,406.32 L1277.5,406.37 L1278.5,406.41 L1279.5,406.45 L1280.5,406.50 L1281.5,406.54 L1282.5,406.58 L1283.5,406.62 L1284.5,406.66 L1285.5,406.70 L1286.5,406.74 L1287.5,406.78 L1288.5,406.81"/>
</g>

<!-- ===== inset ===== -->
<rect x="967.3" y="74.5" width="293.3" height="143.1" fill="#fff" stroke="#000" stroke-width="1.5"/>
<g stroke="#000" stroke-width="1.3">
<path d="M1022.3,74 V69.3 M1113.4,74 V69.3 M1204.4,74 V69.3"/>
</g>
<g font-size="25">
<text transform="translate(1030.5,59) rotate(-90)">223</text>
<text transform="translate(1120.6,59) rotate(-90)">224</text>
<text transform="translate(1211,59) rotate(-90)">225</text>
</g>
<!-- boxes -->
<g fill="none" stroke="#383838" stroke-width="1.9">
<rect x="1185.8" y="79.1" width="15.8" height="38.6"/>
<path d="M1193.6,79.1 V117.7"/>
<path d="M1175.7,98.3 H1185.8 M1201.6,98.3 H1209 M1175.7,88.1 V108.9 M1209,88.1 V108.9"/>
<rect x="1018.9" y="126.9" width="34.5" height="38.6"/>
<path d="M1036.3,126.9 V165.5"/>
<path d="M982.6,146.3 H1018.9 M1053.4,146.3 H1092.5 M982.6,135.4 V156.6 M1092.5,135.4 V156.6"/>
<rect x="1068.6" y="174.7" width="45.3" height="38"/>
<path d="M1092.1,174.7 V212.7"/>
<path d="M1041.9,193.9 H1068.6 M1113.9,193.9 H1179.5 M1041.9,183.5 V204.3 M1179.5,183.5 V204.3"/>
</g>
<g fill="#ff0000"><circle cx="982.6" cy="146.3" r="1.35"/><circle cx="989.1" cy="145.9" r="1.35"/><circle cx="990.2" cy="144.3" r="1.35"/><circle cx="990.8" cy="148.4" r="1.35"/><circle cx="991.8" cy="146.1" r="1.35"/><circle cx="993.1" cy="144.7" r="1.35"/><circle cx="996.1" cy="145.9" r="1.35"/><circle cx="996.4" cy="144.7" r="1.35"/><circle cx="996.9" cy="147.9" r="1.35"/><circle cx="997.6" cy="141.8" r="1.35"/><circle cx="997.3" cy="150.4" r="1.35"/><circle cx="998.7" cy="146.5" r="1.35"/><circle cx="999.8" cy="144.0" r="1.35"/><circle cx="1000.0" cy="148.6" r="1.35"/><circle cx="1000.8" cy="146.2" r="1.35"/><circle cx="1001.9" cy="144.1" r="1.35"/><circle cx="1004.4" cy="146.3" r="1.35"/><circle cx="1005.8" cy="144.1" r="1.35"/><circle cx="1007.0" cy="146.3" r="1.35"/><circle cx="1010.0" cy="146.2" r="1.35"/><circle cx="1010.8" cy="143.8" r="1.35"/><circle cx="1014.6" cy="146.0" r="1.35"/><circle cx="1015.8" cy="144.4" r="1.35"/><circle cx="1014.4" cy="148.5" r="1.35"/><circle cx="1015.6" cy="142.1" r="1.35"/><circle cx="1016.1" cy="149.9" r="1.35"/><circle cx="1016.8" cy="139.9" r="1.35"/><circle cx="1017.3" cy="152.2" r="1.35"/><circle cx="1017.3" cy="146.0" r="1.35"/><circle cx="1017.7" cy="143.9" r="1.35"/><circle cx="1018.5" cy="148.6" r="1.35"/><circle cx="1019.7" cy="142.3" r="1.35"/><circle cx="1019.0" cy="150.8" r="1.35"/><circle cx="1019.2" cy="146.3" r="1.35"/><circle cx="1020.9" cy="144.1" r="1.35"/><circle cx="1020.4" cy="148.4" r="1.35"/><circle cx="1021.4" cy="142.0" r="1.35"/><circle cx="1021.9" cy="146.4" r="1.35"/><circle cx="1022.8" cy="143.9" r="1.35"/><circle cx="1023.2" cy="148.0" r="1.35"/><circle cx="1023.1" cy="141.7" r="1.35"/><circle cx="1024.0" cy="150.4" r="1.35"/><circle cx="1024.0" cy="139.7" r="1.35"/><circle cx="1024.6" cy="152.3" r="1.35"/><circle cx="1024.6" cy="138.1" r="1.35"/><circle cx="1024.0" cy="146.2" r="1.35"/><circle cx="1025.3" cy="144.1" r="1.35"/><circle cx="1025.3" cy="148.8" r="1.35"/><circle cx="1025.9" cy="141.7" r="1.35"/><circle cx="1025.3" cy="150.4" r="1.35"/><circle cx="1026.7" cy="140.1" r="1.35"/><circle cx="1026.8" cy="146.2" r="1.35"/><circle cx="1027.5" cy="144.0" r="1.35"/><circle cx="1027.9" cy="148.3" r="1.35"/><circle cx="1028.6" cy="142.7" r="1.35"/><circle cx="1028.8" cy="150.0" r="1.35"/><circle cx="1030.3" cy="146.4" r="1.35"/><circle cx="1029.9" cy="144.5" r="1.35"/><circle cx="1030.3" cy="148.2" r="1.35"/><circle cx="1030.8" cy="141.8" r="1.35"/><circle cx="1031.1" cy="150.8" r="1.35"/><circle cx="1031.8" cy="140.1" r="1.35"/><circle cx="1032.8" cy="145.9" r="1.35"/><circle cx="1032.9" cy="144.1" r="1.35"/><circle cx="1032.3" cy="148.1" r="1.35"/><circle cx="1033.6" cy="142.2" r="1.35"/><circle cx="1033.4" cy="150.5" r="1.35"/><circle cx="1034.8" cy="146.4" r="1.35"/><circle cx="1035.7" cy="144.3" r="1.35"/><circle cx="1035.5" cy="148.9" r="1.35"/><circle cx="1036.4" cy="142.1" r="1.35"/><circle cx="1036.8" cy="146.0" r="1.35"/><circle cx="1037.1" cy="144.4" r="1.35"/><circle cx="1037.6" cy="148.9" r="1.35"/><circle cx="1038.1" cy="141.7" r="1.35"/><circle cx="1039.0" cy="150.8" r="1.35"/><circle cx="1038.4" cy="140.4" r="1.35"/><circle cx="1038.9" cy="152.1" r="1.35"/><circle cx="1039.3" cy="146.1" r="1.35"/><circle cx="1041.0" cy="144.0" r="1.35"/><circle cx="1040.2" cy="148.3" r="1.35"/><circle cx="1040.9" cy="141.8" r="1.35"/><circle cx="1041.2" cy="150.8" r="1.35"/><circle cx="1043.3" cy="146.0" r="1.35"/><circle cx="1043.3" cy="144.2" r="1.35"/><circle cx="1043.5" cy="148.2" r="1.35"/><circle cx="1043.8" cy="142.7" r="1.35"/><circle cx="1045.0" cy="150.2" r="1.35"/><circle cx="1045.8" cy="140.4" r="1.35"/><circle cx="1044.4" cy="146.1" r="1.35"/><circle cx="1046.1" cy="144.4" r="1.35"/><circle cx="1046.2" cy="148.3" r="1.35"/><circle cx="1047.1" cy="142.7" r="1.35"/><circle cx="1048.1" cy="150.3" r="1.35"/><circle cx="1047.6" cy="147.1" r="1.35"/><circle cx="1048.4" cy="144.0" r="1.35"/><circle cx="1048.8" cy="148.5" r="1.35"/><circle cx="1050.1" cy="142.2" r="1.35"/><circle cx="1049.2" cy="150.7" r="1.35"/><circle cx="1050.5" cy="140.6" r="1.35"/><circle cx="1050.4" cy="152.2" r="1.35"/><circle cx="1050.7" cy="138.3" r="1.35"/><circle cx="1051.0" cy="154.1" r="1.35"/><circle cx="1050.2" cy="146.3" r="1.35"/><circle cx="1051.8" cy="143.9" r="1.35"/><circle cx="1051.6" cy="148.6" r="1.35"/><circle cx="1051.8" cy="142.0" r="1.35"/><circle cx="1052.9" cy="151.0" r="1.35"/><circle cx="1053.3" cy="140.1" r="1.35"/><circle cx="1053.4" cy="152.6" r="1.35"/><circle cx="1053.0" cy="146.0" r="1.35"/><circle cx="1053.8" cy="144.2" r="1.35"/><circle cx="1055.0" cy="148.3" r="1.35"/><circle cx="1055.2" cy="142.5" r="1.35"/><circle cx="1054.5" cy="150.9" r="1.35"/><circle cx="1054.4" cy="140.0" r="1.35"/><circle cx="1055.9" cy="145.6" r="1.35"/><circle cx="1055.8" cy="144.5" r="1.35"/><circle cx="1056.2" cy="148.1" r="1.35"/><circle cx="1056.9" cy="141.9" r="1.35"/><circle cx="1058.3" cy="146.4" r="1.35"/><circle cx="1058.7" cy="144.0" r="1.35"/><circle cx="1058.8" cy="148.8" r="1.35"/><circle cx="1059.8" cy="142.3" r="1.35"/><circle cx="1059.5" cy="150.1" r="1.35"/><circle cx="1060.1" cy="140.2" r="1.35"/><circle cx="1060.4" cy="152.3" r="1.35"/><circle cx="1059.8" cy="146.3" r="1.35"/><circle cx="1061.1" cy="144.1" r="1.35"/><circle cx="1061.2" cy="148.5" r="1.35"/><circle cx="1062.2" cy="142.4" r="1.35"/><circle cx="1062.5" cy="150.9" r="1.35"/><circle cx="1063.4" cy="146.2" r="1.35"/><circle cx="1063.8" cy="144.3" r="1.35"/><circle cx="1063.7" cy="148.6" r="1.35"/><circle cx="1067.0" cy="146.1" r="1.35"/><circle cx="1066.5" cy="144.6" r="1.35"/><circle cx="1067.3" cy="148.6" r="1.35"/><circle cx="1068.4" cy="146.8" r="1.35"/><circle cx="1070.1" cy="144.2" r="1.35"/><circle cx="1092.5" cy="146.3" r="1.35"/><ellipse cx="1075.5" cy="146.3" rx="2.2" ry="1.1"/><ellipse cx="1108.0" cy="146.3" rx="2.2" ry="1.1"/></g><g fill="#0000ff"><circle cx="1041.9" cy="193.9" r="1.35"/><circle cx="1042.8" cy="193.9" r="1.35"/><circle cx="1043.7" cy="191.6" r="1.35"/><circle cx="1043.3" cy="196.5" r="1.35"/><circle cx="1045.5" cy="193.9" r="1.35"/><circle cx="1046.3" cy="191.0" r="1.35"/><circle cx="1046.5" cy="196.0" r="1.35"/><circle cx="1047.9" cy="193.9" r="1.35"/><circle cx="1048.4" cy="192.0" r="1.35"/><circle cx="1050.2" cy="193.6" r="1.35"/><circle cx="1050.9" cy="191.7" r="1.35"/><circle cx="1055.3" cy="193.7" r="1.35"/><circle cx="1055.1" cy="192.0" r="1.35"/><circle cx="1055.3" cy="196.5" r="1.35"/><circle cx="1056.6" cy="189.3" r="1.35"/><circle cx="1056.3" cy="198.4" r="1.35"/><circle cx="1057.4" cy="193.8" r="1.35"/><circle cx="1058.2" cy="192.3" r="1.35"/><circle cx="1057.7" cy="195.8" r="1.35"/><circle cx="1058.1" cy="189.1" r="1.35"/><circle cx="1058.3" cy="198.1" r="1.35"/><circle cx="1058.8" cy="187.5" r="1.35"/><circle cx="1058.3" cy="193.5" r="1.35"/><circle cx="1061.2" cy="192.0" r="1.35"/><circle cx="1060.5" cy="196.2" r="1.35"/><circle cx="1061.9" cy="189.7" r="1.35"/><circle cx="1062.5" cy="193.5" r="1.35"/><circle cx="1063.3" cy="191.5" r="1.35"/><circle cx="1063.0" cy="195.9" r="1.35"/><circle cx="1064.1" cy="189.4" r="1.35"/><circle cx="1065.4" cy="193.5" r="1.35"/><circle cx="1065.7" cy="192.3" r="1.35"/><circle cx="1065.8" cy="196.5" r="1.35"/><circle cx="1068.0" cy="194.3" r="1.35"/><circle cx="1068.6" cy="191.3" r="1.35"/><circle cx="1068.2" cy="196.0" r="1.35"/><circle cx="1069.3" cy="193.8" r="1.35"/><circle cx="1070.2" cy="191.2" r="1.35"/><circle cx="1072.6" cy="193.9" r="1.35"/><circle cx="1073.0" cy="191.4" r="1.35"/><circle cx="1073.1" cy="196.0" r="1.35"/><circle cx="1082.3" cy="193.9" r="1.35"/><circle cx="1083.1" cy="191.8" r="1.35"/><circle cx="1083.5" cy="196.2" r="1.35"/><circle cx="1083.8" cy="189.3" r="1.35"/><circle cx="1084.3" cy="198.2" r="1.35"/><circle cx="1084.9" cy="186.6" r="1.35"/><circle cx="1083.7" cy="200.6" r="1.35"/><circle cx="1084.6" cy="194.3" r="1.35"/><circle cx="1085.6" cy="191.8" r="1.35"/><circle cx="1085.3" cy="195.7" r="1.35"/><circle cx="1086.5" cy="189.3" r="1.35"/><circle cx="1086.3" cy="198.4" r="1.35"/><circle cx="1087.1" cy="194.2" r="1.35"/><circle cx="1087.6" cy="191.6" r="1.35"/><circle cx="1087.4" cy="196.0" r="1.35"/><circle cx="1089.3" cy="189.4" r="1.35"/><circle cx="1090.5" cy="194.1" r="1.35"/><circle cx="1091.1" cy="191.9" r="1.35"/><circle cx="1090.3" cy="196.2" r="1.35"/><circle cx="1092.3" cy="189.3" r="1.35"/><circle cx="1092.5" cy="193.7" r="1.35"/><circle cx="1093.4" cy="191.4" r="1.35"/><circle cx="1094.0" cy="196.0" r="1.35"/><circle cx="1093.4" cy="190.0" r="1.35"/><circle cx="1094.5" cy="198.5" r="1.35"/><circle cx="1095.7" cy="193.8" r="1.35"/><circle cx="1096.2" cy="191.9" r="1.35"/><circle cx="1096.7" cy="196.4" r="1.35"/><circle cx="1097.2" cy="189.4" r="1.35"/><circle cx="1098.4" cy="194.2" r="1.35"/><circle cx="1099.9" cy="191.6" r="1.35"/><circle cx="1099.1" cy="196.5" r="1.35"/><circle cx="1100.4" cy="189.7" r="1.35"/><circle cx="1100.4" cy="193.8" r="1.35"/><circle cx="1101.6" cy="191.8" r="1.35"/><circle cx="1101.0" cy="196.5" r="1.35"/><circle cx="1107.6" cy="194.0" r="1.35"/><circle cx="1107.8" cy="191.7" r="1.35"/><circle cx="1108.9" cy="195.6" r="1.35"/><circle cx="1109.2" cy="189.7" r="1.35"/><circle cx="1108.8" cy="198.5" r="1.35"/><circle cx="1109.9" cy="194.3" r="1.35"/><circle cx="1111.0" cy="191.8" r="1.35"/><circle cx="1111.7" cy="196.3" r="1.35"/><circle cx="1112.2" cy="189.1" r="1.35"/><circle cx="1112.2" cy="194.2" r="1.35"/><circle cx="1113.7" cy="191.7" r="1.35"/><circle cx="1113.7" cy="195.8" r="1.35"/><circle cx="1115.1" cy="193.6" r="1.35"/><circle cx="1116.0" cy="191.6" r="1.35"/><circle cx="1115.5" cy="196.1" r="1.35"/><circle cx="1118.8" cy="193.6" r="1.35"/><circle cx="1118.5" cy="192.0" r="1.35"/><circle cx="1120.8" cy="194.4" r="1.35"/><circle cx="1121.9" cy="191.7" r="1.35"/><circle cx="1124.2" cy="194.4" r="1.35"/><circle cx="1125.1" cy="191.9" r="1.35"/><circle cx="1124.9" cy="195.6" r="1.35"/><circle cx="1126.6" cy="194.3" r="1.35"/><circle cx="1128.2" cy="191.9" r="1.35"/><circle cx="1164.3" cy="193.7" r="1.35"/><circle cx="1165.0" cy="191.4" r="1.35"/><circle cx="1165.0" cy="195.9" r="1.35"/><circle cx="1179.5" cy="193.9" r="1.35"/><ellipse cx="1078.0" cy="193.9" rx="2.2" ry="1.1"/><ellipse cx="1133.0" cy="193.9" rx="2.2" ry="1.1"/><ellipse cx="1142.5" cy="193.9" rx="2.2" ry="1.1"/><ellipse cx="1154.5" cy="193.9" rx="2.2" ry="1.1"/><ellipse cx="1170.0" cy="193.9" rx="2.2" ry="1.1"/><ellipse cx="1191.2" cy="193.9" rx="2.2" ry="1.1"/></g><g fill="#000"><circle cx="1175.7" cy="98.3" r="1.4"/><circle cx="1179.4" cy="98.4" r="1.4"/><circle cx="1180.0" cy="96.6" r="1.4"/><circle cx="1182.2" cy="98.4" r="1.4"/><circle cx="1183.2" cy="96.0" r="1.4"/><circle cx="1185.3" cy="98.5" r="1.4"/><circle cx="1187.0" cy="97.0" r="1.4"/><circle cx="1186.9" cy="100.4" r="1.4"/><circle cx="1186.8" cy="94.7" r="1.4"/><circle cx="1188.8" cy="98.0" r="1.4"/><circle cx="1188.7" cy="96.4" r="1.4"/><circle cx="1189.2" cy="99.3" r="1.4"/><circle cx="1191.5" cy="98.4" r="1.4"/><circle cx="1192.0" cy="96.5" r="1.4"/><circle cx="1192.3" cy="99.9" r="1.4"/><circle cx="1192.9" cy="94.4" r="1.4"/><circle cx="1193.6" cy="98.4" r="1.4"/><circle cx="1195.3" cy="96.0" r="1.4"/><circle cx="1193.9" cy="99.7" r="1.4"/><circle cx="1197.9" cy="98.2" r="1.4"/><circle cx="1197.6" cy="96.2" r="1.4"/><circle cx="1197.2" cy="99.6" r="1.4"/><circle cx="1199.6" cy="98.4" r="1.4"/><circle cx="1199.2" cy="96.1" r="1.4"/><circle cx="1199.8" cy="100.2" r="1.4"/><circle cx="1200.8" cy="94.8" r="1.4"/><circle cx="1202.6" cy="98.6" r="1.4"/><circle cx="1203.2" cy="96.1" r="1.4"/><circle cx="1202.4" cy="100.5" r="1.4"/><circle cx="1205.6" cy="98.3" r="1.4"/><circle cx="1205.2" cy="95.8" r="1.4"/><circle cx="1209.0" cy="98.3" r="1.4"/><ellipse cx="1134.5" cy="98.4" rx="2.2" ry="1.1"/><ellipse cx="1138.0" cy="98.2" rx="2.2" ry="1.1"/><ellipse cx="1229.8" cy="98.6" rx="1.7" ry="1.2"/><ellipse cx="1245.3" cy="98.6" rx="1.7" ry="1.2"/></g>
</svg>
</body></html>
